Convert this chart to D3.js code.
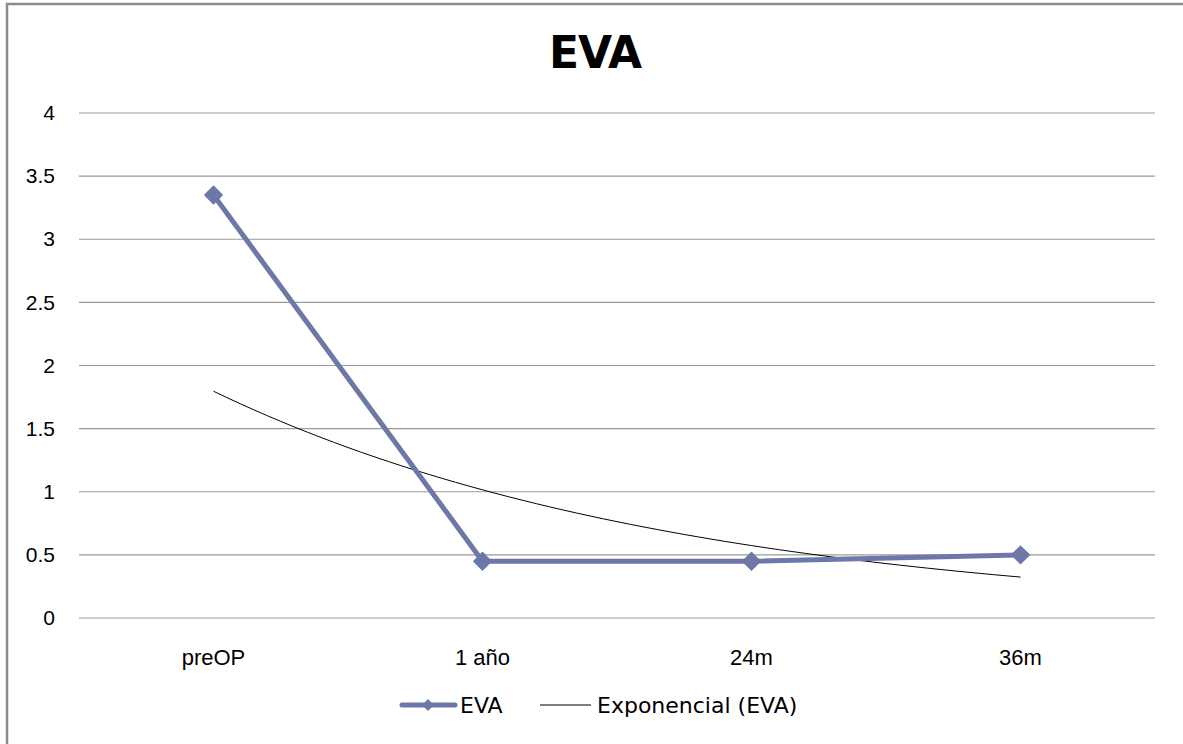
<!DOCTYPE html>
<html><head><meta charset="utf-8">
<script src="https://cdn.jsdelivr.net/npm/d3@7"></script>
<style>body{margin:0;background:#fff}svg{display:block;font-family:"Gill Sans","Gill Sans MT","DejaVu Sans",sans-serif}</style>
</head><body>
<svg id="c" width="1183" height="744"></svg>
<script>
const categories = ["preOP", "1 año", "24m", "36m"];
const evaValues = [3.35, 0.45, 0.45, 0.5];
const yTicks = [0, 0.5, 1, 1.5, 2, 2.5, 3, 3.5, 4];
const seriesName = "EVA";
const trendName = "Exponencial (EVA)";
const title = "EVA";

const svg = d3.select("#c");
const W = 1183, H = 744;
const m = {l: 79, r: 1155, t: 113, b: 618};
const color = "#6d77a8";

svg.append("rect").attr("x", 7).attr("y", 4).attr("width", W).attr("height", H)
  .attr("fill", "#fff").attr("stroke", "#8c8c8c").attr("stroke-width", 2.5);

const x = d3.scaleBand().domain(categories).range([m.l, m.r]).padding(0);
const y = d3.scaleLinear().domain([0, 4]).range([m.b, m.t]);
const cx = d => x(d) + x.bandwidth() / 2;

// gridlines
svg.append("g").selectAll("line").data(yTicks).join("line")
  .attr("x1", m.l).attr("x2", m.r)
  .attr("y1", d => y(d)).attr("y2", d => y(d))
  .attr("stroke", "#9a9a9a").attr("stroke-width", 1.2);

// y axis labels
const yAxis = svg.append("g").attr("transform", `translate(${m.l},0)`)
  .call(d3.axisLeft(y).tickValues(yTicks).tickSize(0).tickPadding(24).tickFormat(d3.format("")));
yAxis.select(".domain").remove();
yAxis.selectAll("text").attr("font-size", 21).attr("fill", "#000").style("font-family", "inherit");

// x axis labels
const xAxis = svg.append("g").attr("transform", `translate(0,${m.b})`)
  .call(d3.axisBottom(x).tickSize(0).tickPadding(31));
xAxis.select(".domain").remove();
xAxis.selectAll("text").attr("font-size", 22).attr("fill", "#000").style("font-family", "inherit");

// exponential trendline fitted from EVA data (least squares on ln y)
const xs = evaValues.map((_, i) => i + 1);
const ly = evaValues.map(v => Math.log(v));
const mx = d3.mean(xs), my = d3.mean(ly);
const b = d3.sum(xs, (xi, i) => (xi - mx) * (ly[i] - my)) / d3.sum(xs, xi => (xi - mx) ** 2);
const a = Math.exp(my - b * mx);
const step = x.bandwidth();
const trendPts = d3.range(1, 4.0001, 0.05).map(t => [cx(categories[0]) + (t - 1) * step, a * Math.exp(b * t)]);
svg.append("path").datum(trendPts)
  .attr("d", d3.line().x(d => d[0]).y(d => y(d[1])))
  .attr("fill", "none").attr("stroke", "#000").attr("stroke-width", 1);

// EVA series
const pts = categories.map((c, i) => [cx(c), evaValues[i]]);
svg.append("path").datum(pts)
  .attr("d", d3.line().x(d => d[0]).y(d => y(d[1])))
  .attr("fill", "none").attr("stroke", color).attr("stroke-width", 5).attr("stroke-linejoin", "round");
const diamond = d3.symbol().type(d3.symbolSquare).size(150);
svg.append("g").selectAll("path").data(pts).join("path")
  .attr("d", diamond)
  .attr("transform", d => `translate(${d[0]},${y(d[1])}) rotate(45)`)
  .attr("fill", color).attr("stroke", color).attr("stroke-width", 1.5).attr("stroke-linejoin", "round");

// title
svg.append("text").attr("x", 595).attr("y", 68).attr("text-anchor", "middle")
  .attr("font-size", 44).attr("font-weight", "bold").attr("letter-spacing", -1).attr("fill", "#000").text(title);

// legend
const ly0 = 705;
svg.append("line").attr("x1", 402).attr("x2", 455).attr("y1", ly0).attr("y2", ly0)
  .attr("stroke", color).attr("stroke-width", 5).attr("stroke-linecap", "round");
svg.append("path").attr("d", d3.symbol().type(d3.symbolSquare).size(70))
  .attr("transform", `translate(428,${ly0}) rotate(45)`).attr("fill", color);
svg.append("text").attr("x", 460).attr("y", ly0 + 8).attr("font-size", 22).attr("fill", "#000").text(seriesName);
svg.append("line").attr("x1", 540).attr("x2", 591).attr("y1", ly0).attr("y2", ly0)
  .attr("stroke", "#000").attr("stroke-width", 1);
svg.append("text").attr("x", 597).attr("y", ly0 + 8).attr("font-size", 22).attr("fill", "#000").text(trendName);
</script>
</body></html>
